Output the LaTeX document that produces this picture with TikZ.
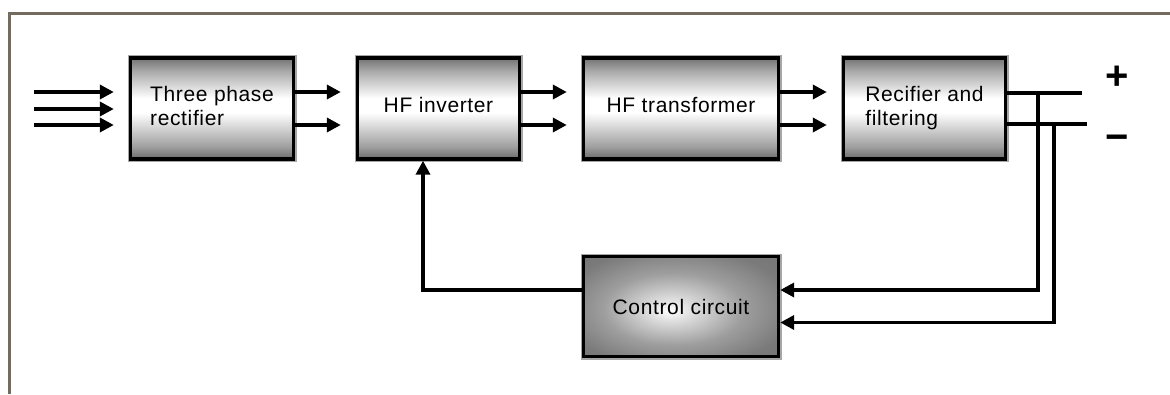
\documentclass[tikz,border=0pt]{standalone}
\usepackage{fontspec}
\setmainfont{Liberation Sans}[LetterSpace=3]
\usetikzlibrary{arrows.meta}
\definecolor{framec}{HTML}{726B5E}
\pgfdeclareverticalshading{boxshade}{100bp}{%
  color(0bp)=(black!58); color(25bp)=(black!58); color(31bp)=(black!38);
  color(48bp)=(white); color(55bp)=(white); color(68bp)=(black!32);
  color(75bp)=(black!55); color(100bp)=(black!55)}
\pgfdeclareradialshading{ccshade}{\pgfpoint{-3bp}{-2bp}}{%
  color(0bp)=(white); color(6bp)=(black!14); color(18bp)=(black!38);
  color(30bp)=(black!52); color(50bp)=(black!58)}
\tikzset{
  blk/.style={draw=black, line width=3.4pt, shading=boxshade,
    preaction={draw=black!35, line width=6pt},
    minimum height=101pt, inner sep=0pt, align=left,
    text height=15pt, text depth=7pt,
    font=\fontsize{21}{23.3}\selectfont},
  twoline/.style={text height=40pt, text depth=7pt},
  arr/.style={line width=3.6pt, -{Triangle[length=14pt,width=14pt]}},
  wire/.style={line width=3.6pt},
}
\begin{document}
\begin{tikzpicture}[x=1pt,y=-1pt]
\useasboundingbox (0,0) rectangle (1170,394);
\fill[white] (0,0) rectangle (1170,394);
\draw[framec, line width=3pt] (9,394) -- (9,13) -- (1170,13);

\node[blk, twoline, minimum width=163pt] (b1) at (212,108.5) {Three phase\\rectifier};
\node[blk, minimum width=162pt] (b2) at (438.5,108.5) {HF inverter};
\node[blk, minimum width=195pt] (b3) at (681,108.5) {HF transformer};
\node[blk, twoline, minimum width=162pt] (b4) at (924.5,108.5) {Recifier and\\filtering};
\node[blk, shading=ccshade, minimum width=195pt, minimum height=100pt,
      text depth=0pt] (cc) at (681,306.5) {Control circuit};

% inputs
\coordinate (i1) at (34,92);
\coordinate (i2) at (34,109);
\coordinate (i3) at (34,125);
\foreach \c in {i1,i2,i3}
  \draw[arr, shorten >=15pt] (\c) -- (b1.west |- \c);

% forward arrows
\foreach \a/\b in {b1/b2,b2/b3,b3/b4}{
  \draw[arr, shorten >=15pt] ([yshift=16.5pt]\a.east) -- ([yshift=16.5pt]\b.west);
  \draw[arr, shorten >=15pt] ([yshift=-16.5pt]\a.east) -- ([yshift=-16.5pt]\b.west);
}

% outputs
\coordinate (p) at (1082,93);
\coordinate (m) at (1087,124);
\draw[wire] ([yshift=15.5pt]b4.east) -- (p);
\draw[wire] ([yshift=-15.5pt]b4.east) -- (m);
\node[font=\bfseries\fontsize{40}{40}\selectfont, anchor=base, inner sep=0pt] (plus) at (1117,89) {+};
\node[font=\bfseries\fontsize{40}{40}\selectfont, anchor=base, inner sep=0pt] (minus) at (1117,150) {−};

% feedback
\coordinate (j1) at (1038,93);
\coordinate (j2) at (1054,124);
\draw[arr] (j1) |- ([yshift=16.5pt]cc.east);
\draw[arr] (j2) |- ([yshift=-16pt]cc.east);
\draw[arr] ([yshift=16.5pt]cc.west) -| ([xshift=-15.5pt]b2.south);
\end{tikzpicture}
\end{document}
